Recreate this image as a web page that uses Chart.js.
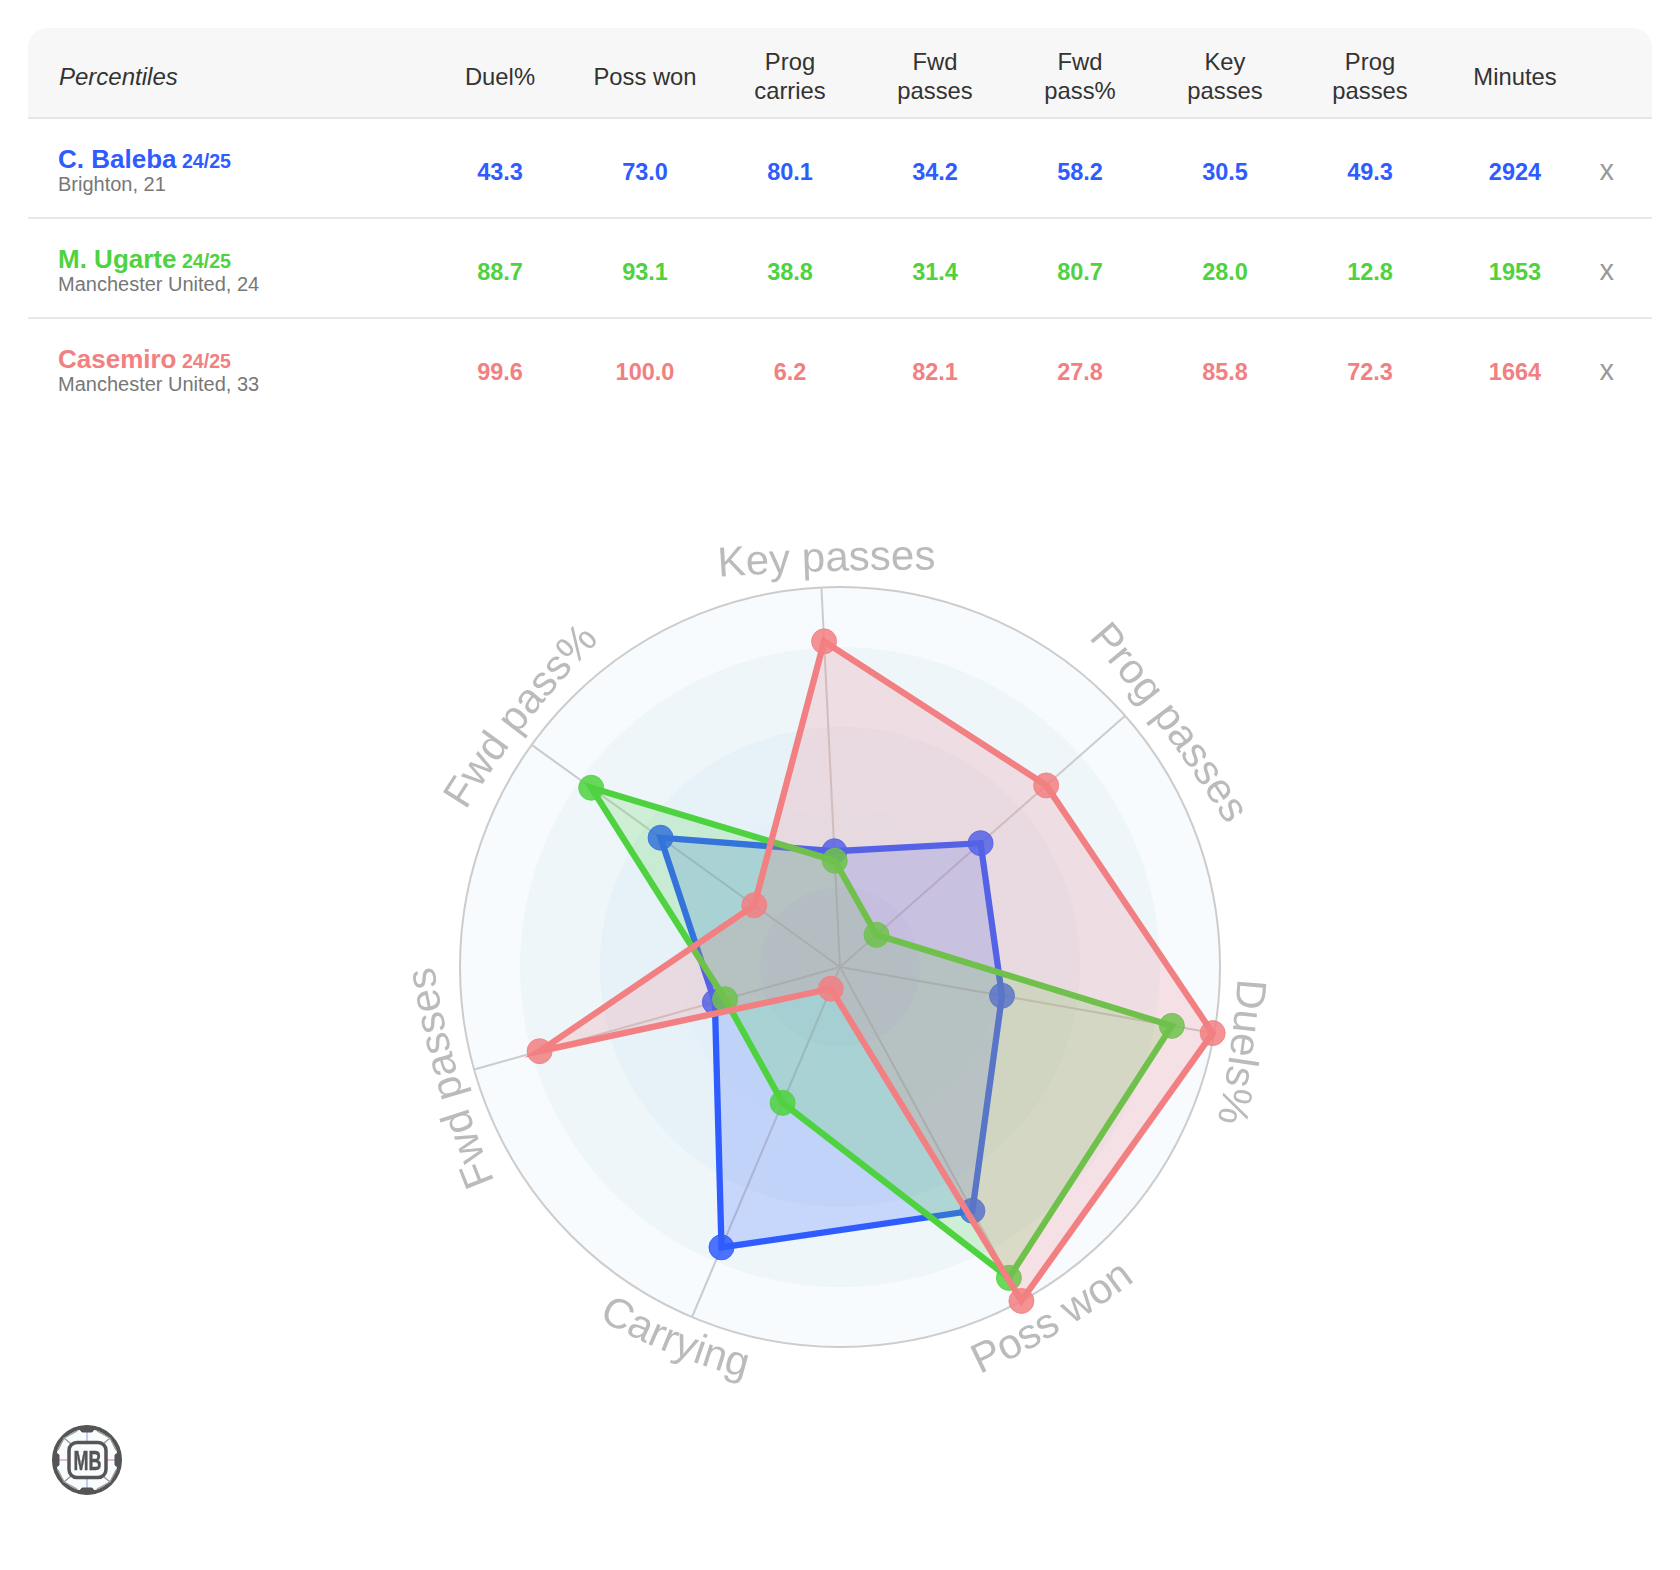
<!DOCTYPE html>
<html>
<head>
<meta charset="utf-8">
<title>Percentiles radar</title>
<script src="https://cdn.jsdelivr.net/npm/chart.js@4"></script>
<style>
html,body{margin:0;padding:0;background:#fff;font-family:"Liberation Sans",Arial,sans-serif;}
#page{position:relative;width:1680px;height:1570px;overflow:hidden;}
table{position:absolute;left:28px;top:28px;width:1624px;table-layout:fixed;border-collapse:separate;border-spacing:0;}
th{box-sizing:border-box;height:91px;background:#f7f7f7;border-bottom:2px solid #e6e6e6;font-weight:400;font-size:23.8px;line-height:29px;color:#333;text-align:center;padding:7px 0 0 0;}
th:first-child{text-align:left;padding-left:31px;font-style:italic;font-size:24px;border-top-left-radius:20px;}
th:last-child{border-top-right-radius:20px;}
td{box-sizing:border-box;height:100px;padding:8px 0 0 0;text-align:center;font-weight:700;font-size:23.5px;border-bottom:2px solid #e8e8e8;}
tr:last-child td{border-bottom:2px solid transparent;}
td.who{text-align:left;padding:5.4px 0 0 30px;}
.name{font-size:26px;line-height:24px;display:block;}
.name small{font-size:19.6px;}
.sub{display:block;font-weight:400;font-size:20px;line-height:22px;color:#777;}
td.x{font-weight:400;font-size:29px;color:#999;text-align:left;padding:4px 0 0 12px;}
#wrap{position:absolute;left:390px;top:517px;width:900px;height:900px;}
#labels{position:absolute;left:0;top:0;}
#logo{position:absolute;left:49.5px;top:1423px;}
</style>
</head>
<body>
<div id="page">
<table id="tbl"></table>
<div id="wrap"><canvas id="radar" width="900" height="900"></canvas></div>
<svg id="labels" width="1680" height="1570" xmlns="http://www.w3.org/2000/svg"></svg>
<svg id="logo" width="74" height="74" viewBox="0 0 74 74" xmlns="http://www.w3.org/2000/svg">
  <circle cx="37" cy="37" r="33" fill="#f8fcfe" stroke="#555" stroke-width="4"/>
  <path d="M37 5V19M37 55V69" stroke="#aabbee" stroke-width="1.5"/>
  <path d="M5 37H19M55 37H69" stroke="#e8a0d0" stroke-width="1.5"/>
  <path d="M21 21L14 15L27 8M53 21L60 15L47 8M21 53L14 59L27 66M53 53L60 59L47 66M14 15L8 27M60 15L66 27M14 59L8 47M60 59L66 47" fill="none" stroke="#999" stroke-width="1.3"/>
  <path d="M28 4Q37 2 46 4L42 9H32ZM28 70Q37 72 46 70L42 65H32ZM4 28Q2 37 4 46L9 42V32ZM70 28Q72 37 70 46L65 42V32Z" fill="#555" stroke="#555"/>
  <rect x="19" y="19.5" width="37" height="35" rx="8" fill="#f8fcfe" stroke="#555" stroke-width="3.5"/>
  <text x="37.5" y="46.5" text-anchor="middle" font-family="Liberation Sans" font-weight="700" font-size="27" fill="#555" stroke="#555" stroke-width="0.5" textLength="28" lengthAdjust="spacingAndGlyphs">MB</text>
</svg>
</div>
<script>
// Table
const tableHeaders = ["Percentiles","Duel%","Poss won","Prog<br>carries","Fwd<br>passes","Fwd<br>pass%","Key<br>passes","Prog<br>passes","Minutes",""];
const seasonLabel = "24/25";
const players = ["C. Baleba","M. Ugarte","Casemiro"];
const playerInfo = ["Brighton, 21","Manchester United, 24","Manchester United, 33"];
const playerColors = ["#2e5cff","#4fd23f","#f27f81"];
const balebaRow  = ["43.3","73.0","80.1","34.2","58.2","30.5","49.3","2924"];
const ugarteRow  = ["88.7","93.1","38.8","31.4","80.7","28.0","12.8","1953"];
const casemiroRow= ["99.6","100.0","6.2","82.1","27.8","85.8","72.3","1664"];
const tableRows = [balebaRow,ugarteRow,casemiroRow];

// Radar, clockwise from the top
const axisLabels = ["Key passes","Prog passes","Duels%","Poss won","Carrying","Fwd passes","Fwd pass%"];
const balebaValues   = [30.5,49.3,43.3,73.0,80.1,34.2,58.2];
const ugarteValues   = [28.0,12.8,88.7,93.1,38.8,31.4,80.7];
const casemiroValues = [85.8,72.3,99.6,100.0,6.2,82.1,27.8];
const ringValues = [100,84.2,63.2,42.1,21.05];
const ringColors = ["#f7fbfe","#eef6fa","#e6f2f8","#e4f0f7","#dfedf5"];

// Label placement: degrees added to the spoke angle, baseline gap beyond the outer ring,
// extra rotation in degrees, curvature radius of the baseline, flipped reading direction
const labelLayout = {
  "Key passes": {off:0.9, gap:16, tilt:0,  bend:3000, flip:false},
  "Prog passes":{off:4.8, gap:20, tilt:0,  bend:1500, flip:false},
  "Duels%":     {off:2.0, gap:19, tilt:-4, bend:1000, flip:false},
  "Poss won":   {off:-2.6,gap:46, tilt:0,  bend:800,  flip:true},
  "Carrying":   {off:0.9, gap:42, tilt:-2, bend:600,  flip:true},
  "Fwd passes": {off:-0.2,gap:17, tilt:0,  bend:1000, flip:false},
  "Fwd pass%":  {off:2.4, gap:17, tilt:0,  bend:1000, flip:false}
};

let html = "<colgroup><col style='width:399.5px'>";
for(let i=0;i<8;i++) html += "<col style='width:145px'>";
html += "<col></colgroup><thead><tr>";
tableHeaders.forEach(h=>html+="<th>"+h+"</th>");
html += "</tr></thead><tbody>";
players.forEach((p,i)=>{
  html += "<tr style='color:"+playerColors[i]+"'><td class='who'><span class='name'>"+p+"<small> "+seasonLabel+"</small></span><span class='sub'>"+playerInfo[i]+"</span></td>";
  tableRows[i].forEach(v=>html+="<td>"+v+"</td>");
  html += "<td class='x'>x</td></tr>";
});
html += "</tbody>";
document.getElementById("tbl").innerHTML = html;

const rings = {
  id:"rings",
  beforeDraw(chart){
    const s = chart.scales.r, c = chart.ctx;
    ringValues.forEach((v,i)=>{
      c.beginPath();
      c.arc(s.xCenter,s.yCenter,s.getDistanceFromCenterForValue(v),0,Math.PI*2);
      c.fillStyle = ringColors[i];
      c.fill();
    });
  }
};

function ds(label,data,rgb,order){
  return {
    label,data,order,
    borderColor:"rgb("+rgb+")",
    backgroundColor:"rgba("+rgb+",0.2)",
    fill:true,
    borderWidth:6.3,
    tension:0,
    borderJoinStyle:"miter",
    pointRadius:12.5,
    pointHoverRadius:12.5,
    pointBorderWidth:1,
    pointBackgroundColor:"rgba("+rgb+",0.85)",
    pointBorderColor:"rgba("+rgb+",0.85)"
  };
}

const chart = new Chart(document.getElementById("radar"),{
  type:"radar",
  data:{labels:axisLabels,datasets:[
    ds(players[0],balebaValues,"46,92,255",3),
    ds(players[1],ugarteValues,"79,210,63",2),
    ds(players[2],casemiroValues,"242,127,129",1)
  ]},
  options:{
    responsive:false,
    animation:false,
    devicePixelRatio:1,
    layout:{padding:70},
    plugins:{legend:{display:false},tooltip:{enabled:false}},
    scales:{r:{
      min:0,max:100,
      startAngle:-2.8,
      ticks:{display:false,stepSize:100},
      pointLabels:{display:false},
      grid:{circular:true,color:"#cccccc",lineWidth:2},
      angleLines:{color:"#cccccc",lineWidth:2}
    }}
  },
  plugins:[rings]
});

// Curved axis labels, positioned from the radial scale
(function(){
  const s = chart.scales.r;
  const wrap = document.getElementById("wrap");
  const cx = wrap.offsetLeft + s.xCenter, cy = wrap.offsetTop + s.yCenter;
  const R = s.getDistanceFromCenterForValue(100);
  const svg = document.getElementById("labels");
  const NS = "http://www.w3.org/2000/svg";
  const defs = document.createElementNS(NS,"defs");
  svg.appendChild(defs);
  axisLabels.forEach((lab,i)=>{
    const L = labelLayout[lab];
    const a = s.getIndexAngle(i) + L.off*Math.PI/180;   // clockwise from the top
    const n = a + L.tilt*Math.PI/180;
    const r = R + L.gap;
    const mx = cx + r*Math.sin(a), my = cy - r*Math.cos(a);
    const ax = mx - L.bend*Math.sin(n), ay = my + L.bend*Math.cos(n);
    const span = 300/L.bend;
    const pt = t=>[ax + L.bend*Math.sin(t), ay - L.bend*Math.cos(t)];
    const p0 = pt(L.flip ? n+span : n-span), p1 = pt(L.flip ? n-span : n+span);
    const d = "M"+p0[0]+" "+p0[1]+"A"+L.bend+" "+L.bend+" 0 0 "+(L.flip?0:1)+" "+p1[0]+" "+p1[1];
    const path = document.createElementNS(NS,"path");
    path.setAttribute("id","arc"+i);
    path.setAttribute("d",d);
    defs.appendChild(path);
    const t = document.createElementNS(NS,"text");
    t.setAttribute("font-family","Liberation Sans");
    t.setAttribute("font-size","42");
    t.setAttribute("fill","#bbbbbb");
    t.setAttribute("text-anchor","middle");
    const tp = document.createElementNS(NS,"textPath");
    tp.setAttribute("href","#arc"+i);
    tp.setAttribute("startOffset","50%");
    tp.textContent = lab;
    t.appendChild(tp);
    svg.appendChild(t);
  });
})();
</script>
</body>
</html>
